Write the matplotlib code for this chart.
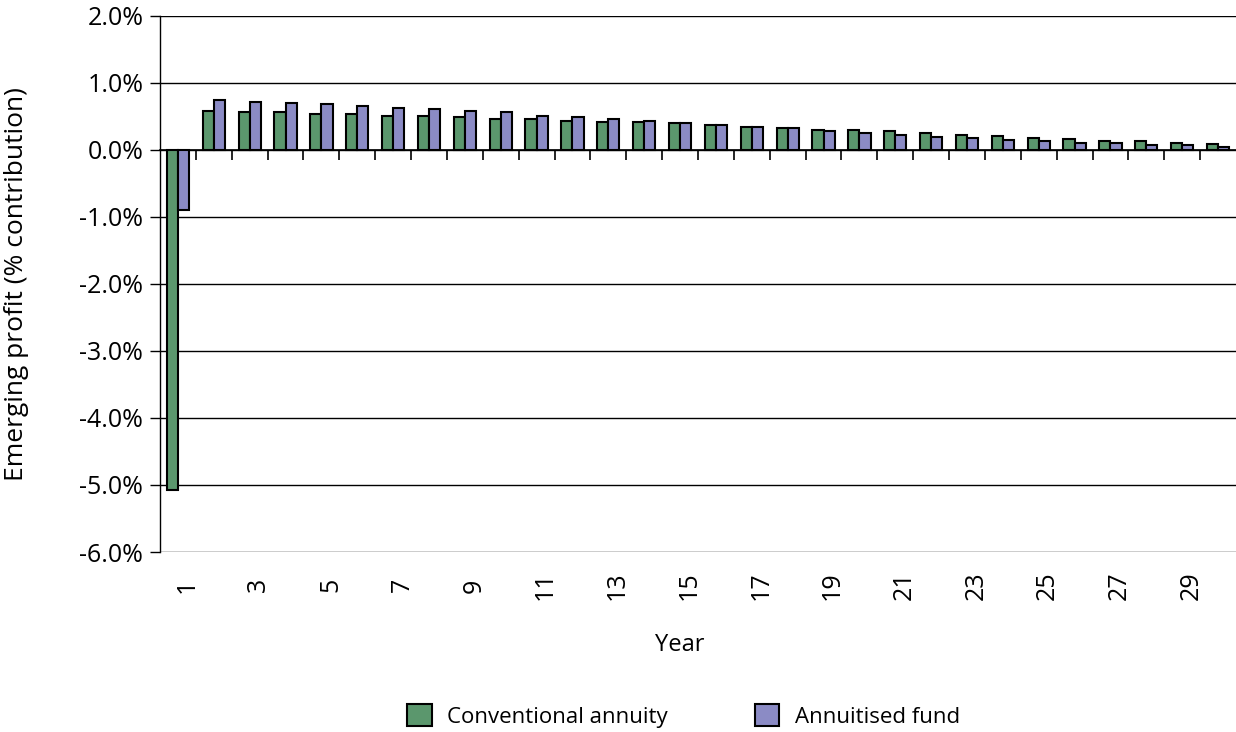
import matplotlib
matplotlib.use("Agg")
import matplotlib.pyplot as plt
import matplotlib.transforms as mtransforms
from matplotlib.patches import Patch
import numpy as np

plt.rcParams["font.family"] = ["Open Sans", "DejaVu Sans"]
plt.rcParams["font.size"] = 16

years = list(range(1, 31))
conventional = [-5.07, 0.58, 0.56, 0.56, 0.54, 0.54, 0.51, 0.51, 0.49, 0.47,
                0.46, 0.44, 0.42, 0.42, 0.40, 0.38, 0.35, 0.33, 0.30, 0.30,
                0.28, 0.26, 0.23, 0.21, 0.18, 0.16, 0.14, 0.14, 0.11, 0.09]
annuitised = [-0.90, 0.75, 0.72, 0.70, 0.68, 0.65, 0.63, 0.61, 0.58, 0.56,
              0.51, 0.49, 0.46, 0.44, 0.40, 0.37, 0.35, 0.33, 0.28, 0.26,
              0.23, 0.20, 0.18, 0.15, 0.14, 0.11, 0.10, 0.08, 0.07, 0.05]
green = "#5b976d"
purple = "#8b8bc5"

fig = plt.figure(figsize=(12.36, 7.32), dpi=100)
ax = fig.add_axes([160 / 1236, 1 - 552 / 732, 1076 / 1236, 536 / 732])

x = np.arange(len(years))
w = 0.31
ax.bar(x - w / 2, conventional, w, color=green, edgecolor="black", linewidth=1.5, zorder=3)
ax.bar(x + w / 2, annuitised, w, color=purple, edgecolor="black", linewidth=1.5, zorder=3)

ax.set_xlim(-0.5, len(years) - 0.5)
ax.set_ylim(-6, 2)
ax.set_yticks(np.arange(-6, 2.1, 1))
ax.set_yticklabels([f"{v:.1f}%" for v in np.arange(-6, 2.1, 1)], fontsize=18)
ax.yaxis.grid(True, color="black", linewidth=1, zorder=0)
ax.tick_params(axis="y", direction="out", length=7, width=1, pad=5)

# odd year labels sit below the plot, ticks are drawn on the zero line
shown = [i for i in x if years[i] % 2 == 1]
ax.set_xticks(shown)
ax.set_xticklabels([str(years[i]) for i in shown], rotation=90, va="center", ha="center",
                   fontsize=18)
ax.tick_params(axis="x", length=0, pad=24)
shift = mtransforms.ScaledTranslation(9 / 100, 0, fig.dpi_scale_trans)
for lab in ax.get_xticklabels():
    lab.set_transform(lab.get_transform() + shift)

zero = ax.secondary_xaxis(6 / 8)
zero.set_xticks(np.arange(0.5, len(years) - 0.5, 1))
zero.set_xticklabels([])
zero.xaxis.set_ticks_position("bottom")
zero.tick_params(axis="x", direction="out", length=7, width=1.2, color="black")
for s in ["top", "bottom"]:
    zero.spines[s].set_linewidth(1.2)

for s in ["top", "right", "bottom"]:
    ax.spines[s].set_visible(False)
ax.spines["left"].set_linewidth(1)

ax.set_ylabel("Emerging profit (% contribution)", fontsize=19)
ax.yaxis.set_label_coords(-0.122, 0.5)
ax.set_xlabel("Year", fontsize=17)
ax.xaxis.set_label_coords(0.483, -0.152)

handles = [Patch(facecolor=green, edgecolor="black", linewidth=1.5, label="Conventional annuity"),
           Patch(facecolor=purple, edgecolor="black", linewidth=1.5, label="Annuitised fund")]
fig.legend(handles=handles, loc="center", bbox_to_anchor=(0.553, 0.022), ncol=2,
           frameon=False, handlelength=1.1, handleheight=1.1, handletextpad=0.7,
           columnspacing=3.9)

fig.savefig("out.png", dpi=100)
